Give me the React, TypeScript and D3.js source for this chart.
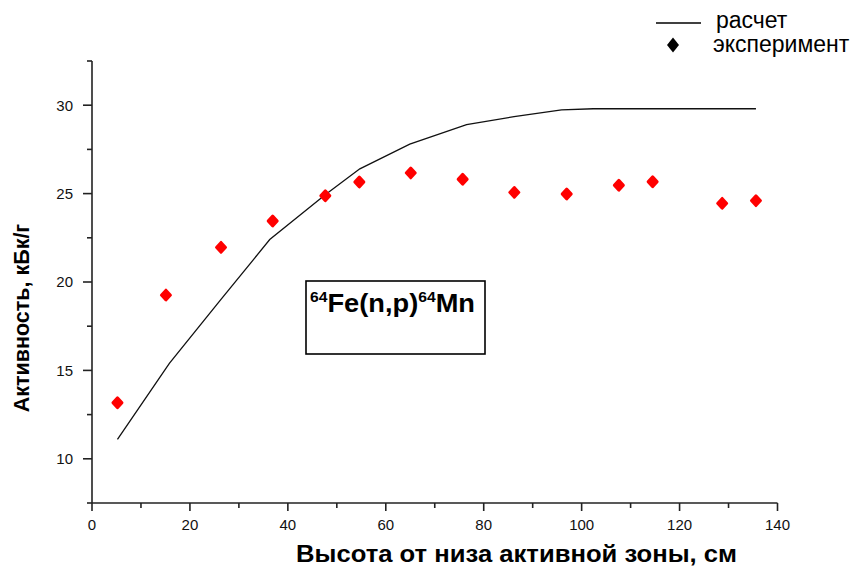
import React from "react";
import * as d3 from "d3";

// Calculated activity profile (line)
const calcHeight = [5.2, 15.8, 26.3, 36.3, 47.7, 54.7, 64.9, 76.5, 86.2, 95.9, 102.4, 135.6];
const calcActivity = [11.1, 15.4, 19.0, 22.4, 24.95, 26.4, 27.8, 28.9, 29.35, 29.73, 29.8, 29.8];

// Measured activity (points)
const expHeight = [5.2, 15.1, 26.35, 36.9, 47.65, 54.6, 65.1, 75.7, 86.25, 96.95, 107.6, 114.5, 128.7, 135.6];
const expActivity = [13.17, 19.26, 21.96, 23.45, 24.88, 25.66, 26.17, 25.81, 25.07, 24.98, 25.47, 25.67, 24.45, 24.6];

const xMajorTicks = [0, 20, 40, 60, 80, 100, 120, 140];
const xMinorTicks = [10, 30, 50, 70, 90, 110, 130];
const yMajorTicks = [10, 15, 20, 25, 30];
const yMinorTicks = [7.5, 12.5, 17.5, 22.5, 27.5, 32.5];

const xTitle = "Высота от низа активной зоны, см";
const yTitle = "Активность, кБк/г";
const legendLabels = ["расчет", "эксперимент"];

const W = 856;
const H = 567;

export default function App() {
  const x = d3.scaleLinear().domain([0, 140]).range([92, 777.5]);
  const y = d3.scaleLinear().domain([7.5, 32.5]).range([503, 61]);

  const calcPts: [number, number][] = calcHeight.map((h, i) => [h, calcActivity[i]]);
  const line = d3
    .line<[number, number]>()
    .x((d) => x(d[0]))
    .y((d) => y(d[1]));

  const axisColor = "#222";
  const font = "'Liberation Sans', Arial, sans-serif";

  return (
    <div style={{ position: "absolute", left: 0, top: 0 }}>
      <svg width={W} height={H} style={{ display: "block", background: "#fff" }}>
        <rect x={0} y={0} width={W} height={H} fill="#fff" />

        {/* axes */}
        <line x1={x(0)} x2={x(0)} y1={y(32.5)} y2={y(7.5)} stroke={axisColor} strokeWidth={1.6} />
        <line x1={x(0)} x2={x(140)} y1={y(7.5)} y2={y(7.5)} stroke={axisColor} strokeWidth={1.6} />

        {xMajorTicks.map((t) => (
          <g key={"xM" + t}>
            <line x1={x(t)} x2={x(t)} y1={y(7.5)} y2={y(7.5) + 8} stroke={axisColor} strokeWidth={1.6} />
            <text x={x(t)} y={530} textAnchor="middle" fontSize={15} fontFamily={font} fill="#111">
              {t}
            </text>
          </g>
        ))}
        {xMinorTicks.map((t) => (
          <line key={"xm" + t} x1={x(t)} x2={x(t)} y1={y(7.5)} y2={y(7.5) + 5} stroke={axisColor} strokeWidth={1.6} />
        ))}
        {yMajorTicks.map((t) => (
          <g key={"yM" + t}>
            <line x1={x(0) - 9} x2={x(0)} y1={y(t)} y2={y(t)} stroke={axisColor} strokeWidth={1.6} />
            <text x={73} y={y(t) + 5.3} textAnchor="end" fontSize={15} fontFamily={font} fill="#111">
              {t}
            </text>
          </g>
        ))}
        {yMinorTicks.map((t) => (
          <line key={"ym" + t} x1={x(0) - 5} x2={x(0)} y1={y(t)} y2={y(t)} stroke={axisColor} strokeWidth={1.6} />
        ))}

        {/* axis titles */}
        <text
          x={296}
          y={562}
          fontSize={24}
          fontWeight="bold"
          fontFamily={font}
          fill="#000"
          textLength={441}
          lengthAdjust="spacingAndGlyphs"
        >
          {xTitle}
        </text>
        <text
          transform={`translate(29, 318) rotate(-90)`}
          textAnchor="middle"
          fontSize={21.5}
          fontWeight="bold"
          fontFamily={font}
          fill="#000"
        >
          {yTitle}
        </text>

        {/* calculated curve */}
        <path d={line(calcPts) || ""} fill="none" stroke="#111" strokeWidth={1.3} />

        {/* measured points */}
        {expHeight.map((h, i) => (
          <path
            key={"p" + i}
            transform={`translate(${x(h)}, ${y(expActivity[i])})`}
            d="M0,-5 L4.6,0 L0,5 L-4.6,0 Z"
            fill="#ff0000"
            stroke="#ff0000"
            strokeWidth={2.8}
            strokeLinejoin="round"
          />
        ))}

        {/* reaction label box */}
        <rect x={306} y={281} width={179} height={73} fill="#fff" stroke="#000" strokeWidth={1.6} />
        <text
          x={310}
          y={312}
          fontFamily={font}
          fontWeight="bold"
          fill="#000"
          fontSize={26}
          textLength={165}
          lengthAdjust="spacingAndGlyphs"
        >
          <tspan fontSize={15} dy={-10}>64</tspan>
          <tspan dy={10}>Fe(n,p)</tspan>
          <tspan fontSize={15} dy={-10}>64</tspan>
          <tspan dy={10}>Mn</tspan>
        </text>

        {/* legend */}
        <line x1={656} x2={701} y1={23} y2={23} stroke="#000" strokeWidth={1.6} />
        <text x={716} y={28} fontSize={23} fontFamily={font} fill="#000">
          {legendLabels[0]}
        </text>
        <path d="M673,37.5 L679,45 L673,52.5 L667,45 Z" fill="#000" />
        <text x={713} y={52} fontSize={23} fontFamily={font} fill="#000">
          {legendLabels[1]}
        </text>
      </svg>
    </div>
  );
}
